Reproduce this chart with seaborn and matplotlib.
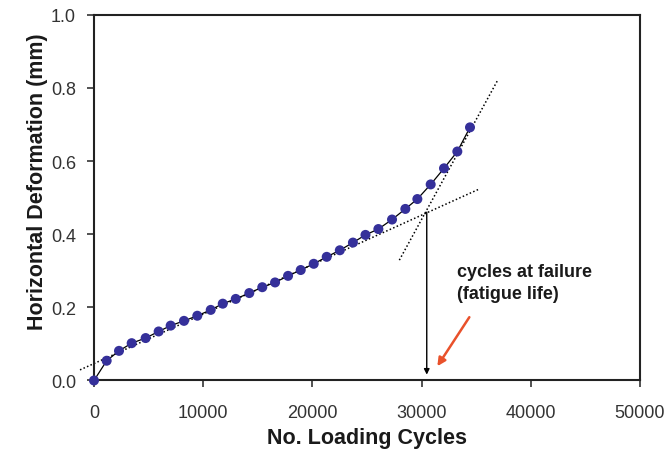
import matplotlib
matplotlib.use("Agg")
import matplotlib.pyplot as plt
import seaborn as sns
import pandas as pd

# Data
cycles = [0, 1160, 2290, 3450, 4730, 5920, 7020, 8240, 9460, 10690,
          11790, 12980, 14220, 15410, 16580, 17770, 18930, 20120, 21310, 22510,
          23710, 24860, 26040, 27290, 28510, 29610, 30830, 32050, 33270, 34430]
deformation = [0.000, 0.054, 0.081, 0.102, 0.116, 0.134, 0.150, 0.163, 0.177, 0.193,
               0.210, 0.223, 0.239, 0.255, 0.268, 0.286, 0.302, 0.319, 0.338, 0.356,
               0.377, 0.398, 0.414, 0.440, 0.469, 0.496, 0.536, 0.580, 0.626, 0.692]

# dotted tangent lines (end points)
secondary_x = [-1280, 35250]
secondary_y = [0.029, 0.523]
tertiary_x = [27960, 36930]
tertiary_y = [0.329, 0.819]

failure_cycles = 30470
failure_def = 0.460

df = pd.DataFrame({"cycles": cycles, "deformation": deformation})

sns.set_style("white")
plt.rcParams["font.family"] = ["Liberation Sans", "DejaVu Sans"]

fig = plt.figure(figsize=(6.69, 4.52), dpi=100)
ax = fig.add_axes([0.1405, 0.156, 0.8162, 0.8093])

# tangent lines
ax.plot(secondary_x, secondary_y, ls=(0, (1, 1.5)), color="black", lw=1.1, clip_on=False)
ax.plot(tertiary_x, tertiary_y, ls=(0, (1, 1.5)), color="black", lw=1.1, clip_on=False)

# data
sns.lineplot(data=df, x="cycles", y="deformation", color="black", lw=0.9, ax=ax, zorder=3)
sns.scatterplot(data=df, x="cycles", y="deformation", color="#35309a", s=52,
                edgecolor="none", ax=ax, zorder=4, clip_on=False)

# failure arrow
ax.annotate("", xy=(failure_cycles, 0.016), xytext=(failure_cycles, failure_def),
            arrowprops=dict(arrowstyle="-|>", color="black", lw=1.0,
                            mutation_scale=8, shrinkA=0, shrinkB=0))
ax.annotate("", xy=(31440, 0.039), xytext=(34370, 0.173),
            arrowprops=dict(arrowstyle="-|>", color="#e9512b", lw=1.8,
                            mutation_scale=12, shrinkA=0, shrinkB=0))
ax.text(33220, 0.268, "cycles at failure\n(fatigue life)", fontsize=13,
        fontweight="bold", color="#1a1a1a", ha="left", va="center", linespacing=1.35)

ax.set_xlim(0, 50000)
ax.set_ylim(0, 1.0)
ax.set_xticks([0, 10000, 20000, 30000, 40000, 50000])
ax.set_yticks([0.0, 0.2, 0.4, 0.6, 0.8, 1.0])
ax.set_yticklabels(["0.0", "0.2", "0.4", "0.6", "0.8", "1.0"])

ax.set_xlabel("No. Loading Cycles", fontsize=15.5, fontweight="bold", color="#1a1a1a")
ax.set_ylabel("Horizontal Deformation (mm)", fontsize=15.5, fontweight="bold", color="#1a1a1a")
ax.xaxis.set_label_coords(0.5, -0.128)
ax.yaxis.set_label_coords(-0.085, 0.545)

ax.tick_params(axis="both", direction="out", length=5, width=1.1, color="#222222",
               labelsize=13, labelcolor="#333333")
ax.tick_params(axis="x", pad=12)
ax.tick_params(axis="y", pad=8)
ax.xaxis.set_ticks_position("bottom")
ax.yaxis.set_ticks_position("left")

for spine in ax.spines.values():
    spine.set_color("#222222")
    spine.set_linewidth(1.5)
    spine.set_visible(True)

fig.savefig("out.png", dpi=100)
